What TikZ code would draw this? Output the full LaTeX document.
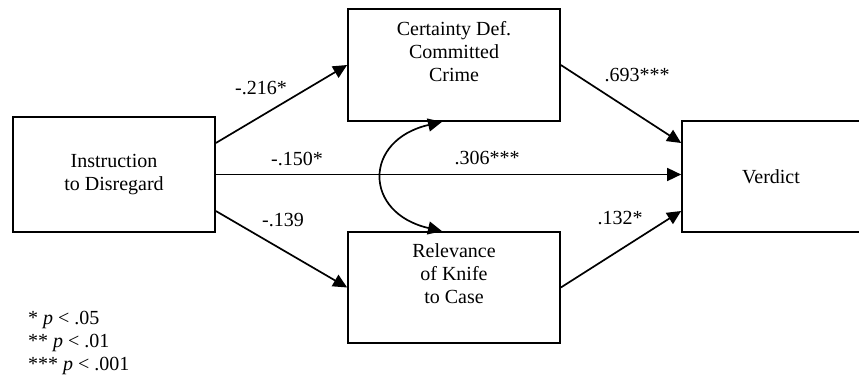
\documentclass[tikz,border=0pt]{standalone}
\usepackage{fontspec}
\setmainfont{Liberation Serif}
\usetikzlibrary{arrows.meta}
\begin{document}
\begin{tikzpicture}[x=1pt,y=-1pt,
  box/.style={draw,line width=1.7pt,align=center,inner sep=0pt},
  path/.style={line width=1.7pt,-{Triangle[length=14pt,width=13pt]}},
  lbl/.style={inner sep=0pt},
  font=\fontsize{20}{23}\selectfont]
\useasboundingbox (0,0) rectangle (859,377);
\node[box,minimum width=202pt,minimum height=115pt] (instr) at (114,174.5) {Instruction\\to Disregard};
\node[box,minimum width=212pt,minimum height=112pt] (cert) at (454,65) {Certainty Def.\\Committed\\Crime\\[4pt]};
\node[box,minimum width=212pt,minimum height=111pt] (rel) at (454,287.5) {Relevance\\of Knife\\to Case\\[4pt]};
\node[box,minimum width=178pt,minimum height=111pt] (verd) at (771,176.5) {Verdict};
\draw[path] ([yshift=31.5pt]instr.east) -- (cert.west);
\draw[path] (instr.east) -- (instr.east -| verd.west);
\draw[path] ([yshift=-36.5pt]instr.east) -- (rel.west);
\draw[path] (cert.east) -- ([yshift=33.5pt]verd.west);
\draw[path] (rel.east) -- ([yshift=-34.5pt]verd.west);
\draw[line width=1.7pt,{Triangle[length=14pt,width=13pt]}-{Triangle[length=14pt,width=13pt]}]
  ([xshift=-12pt]cert.south) .. controls (363,140) and (363,213) .. ([xshift=-12pt]rel.north);
\node[lbl] (l1) at (261,88) {-.216*};
\node[lbl] (l2) at (297,159) {-.150*};
\node[lbl] (l3) at (487,158) {.306***};
\node[lbl] (l4) at (637,75) {.693***};
\node[lbl] (l5) at (283,220) {-.139};
\node[lbl] (l6) at (620,218) {.132*};
\node[lbl,anchor=west] (n1) at (28,320) {* \textit{p} < .05};
\node[lbl,anchor=west] (n2) at (28,343) {** \textit{p} < .01};
\node[lbl,anchor=west] (n3) at (28,366) {*** \textit{p} < .001};
\end{tikzpicture}
\end{document}
